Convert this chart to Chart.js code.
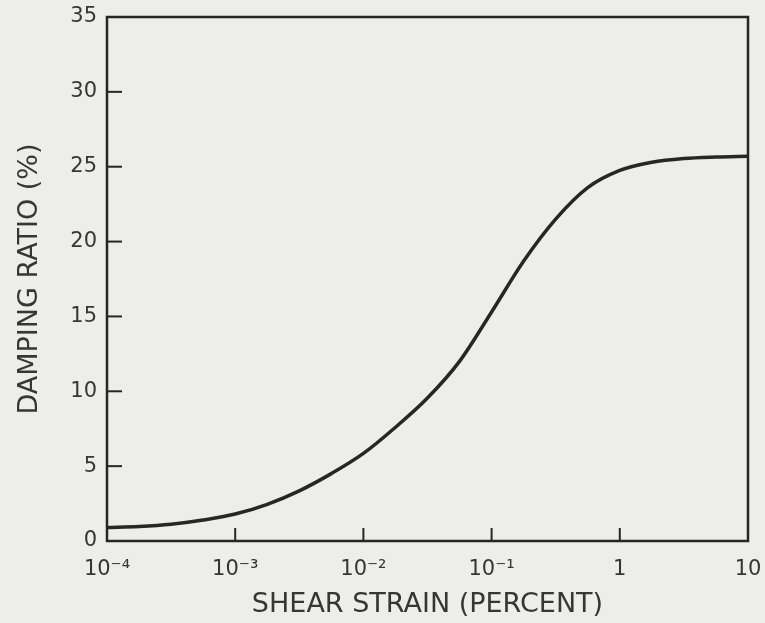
<!DOCTYPE html>
<html>
<head>
<meta charset="utf-8">
<script src="https://cdn.jsdelivr.net/npm/chart.js@4/dist/chart.umd.min.js"></script>
<style>
  html, body { margin: 0; padding: 0; background: #ededeb; }
  #wrap { width: 765px; height: 623px; position: relative; }
</style>
</head>
<body>
<div id="wrap"><canvas id="c"></canvas></div>
<script>
// Shear strain (percent) and damping ratio (%)
const strainPercent = [1e-4, 1.78e-4, 3.16e-4, 5.62e-4, 1e-3, 1.78e-3, 3.16e-3, 5.62e-3,
                       1e-2, 1.78e-2, 3.16e-2, 5.62e-2, 0.1, 0.178, 0.316, 0.562,
                       1, 1.78, 3.16, 5.62, 10];
const dampingRatio = [0.9, 0.97, 1.12, 1.4, 1.8, 2.45, 3.35, 4.5,
                      5.85, 7.6, 9.55, 12.0, 15.3, 18.7, 21.5, 23.6,
                      24.75, 25.3, 25.55, 25.65, 25.7];
const xTickValues = [1e-4, 1e-3, 1e-2, 1e-1, 1, 10];
const xTickLabels = ['10\u207B\u2074', '10\u207B\u00B3', '10\u207B\u00B2', '10\u207B\u00B9', '1', '10'];
const yTickValues = [0, 5, 10, 15, 20, 25, 30, 35];
const xTitle = 'SHEAR STRAIN (PERCENT)';
const yTitle = 'DAMPING RATIO (%)';

const INK = '#262626';
const TEXT = '#363636';
const FONT = "'DejaVu Sans', 'Liberation Sans', sans-serif";

const framePlugin = {
  id: 'frame',
  afterDraw(chart) {
    const ctx = chart.ctx;
    const a = chart.chartArea;
    const xs = chart.scales.x, ys = chart.scales.y;
    ctx.save();
    ctx.strokeStyle = INK;
    ctx.lineWidth = 2.5;
    ctx.strokeRect(a.left, a.top, a.right - a.left, a.bottom - a.top);
    ctx.lineWidth = 2;
    xs.ticks.forEach(t => {
      const px = xs.getPixelForValue(t.value);
      ctx.beginPath(); ctx.moveTo(px, a.bottom); ctx.lineTo(px, a.bottom - 13); ctx.stroke();
    });
    ys.ticks.forEach(t => {
      const py = ys.getPixelForValue(t.value);
      ctx.beginPath(); ctx.moveTo(a.left, py); ctx.lineTo(a.left + 15, py); ctx.stroke();
    });
    ctx.restore();
  }
};

new Chart(document.getElementById('c'), {
  type: 'line',
  data: {
    datasets: [{
      data: strainPercent.map((x, i) => ({ x: x, y: dampingRatio[i] })),
      borderColor: INK,
      borderWidth: 3.5,
      pointRadius: 0,
      fill: false,
      cubicInterpolationMode: 'monotone',
      clip: 6
    }]
  },
  options: {
    responsive: true,
    maintainAspectRatio: false,
    animation: false,
    layout: { padding: { top: 17, right: 17, left: 0, bottom: 0 } },
    plugins: { legend: { display: false }, tooltip: { enabled: false } },
    scales: {
      x: {
        type: 'logarithmic',
        min: 1e-4, max: 10,
        afterBuildTicks: s => { s.ticks = xTickValues.map(v => ({ value: v })); },
        afterFit: s => { s.height = 623 - 541; s.paddingLeft = 0; s.paddingRight = 0; },
        grid: { display: false, drawTicks: false },
        border: { display: false },
        ticks: {
          autoSkip: false, maxRotation: 0, padding: 16,
          color: TEXT, font: { family: FONT, size: 21 },
          callback: (v, i) => xTickLabels[i]
        },
        title: {
          display: true, text: xTitle, color: TEXT,
          font: { family: FONT, size: 27 }, padding: { top: 0, bottom: 2 }
        }
      },
      y: {
        min: 0, max: 35,
        afterBuildTicks: s => { s.ticks = yTickValues.map(v => ({ value: v })); },
        afterFit: s => { s.width = 107; s.paddingTop = 0; s.paddingBottom = 0; },
        grid: { display: false, drawTicks: false },
        border: { display: false },
        ticks: {
          padding: 10, color: TEXT, font: { family: FONT, size: 21 }
        },
        title: {
          display: true, text: yTitle, color: TEXT,
          font: { family: FONT, size: 27 }, padding: { top: 14, bottom: 0 }
        }
      }
    }
  },
  plugins: [framePlugin]
});
</script>
</body>
</html>
